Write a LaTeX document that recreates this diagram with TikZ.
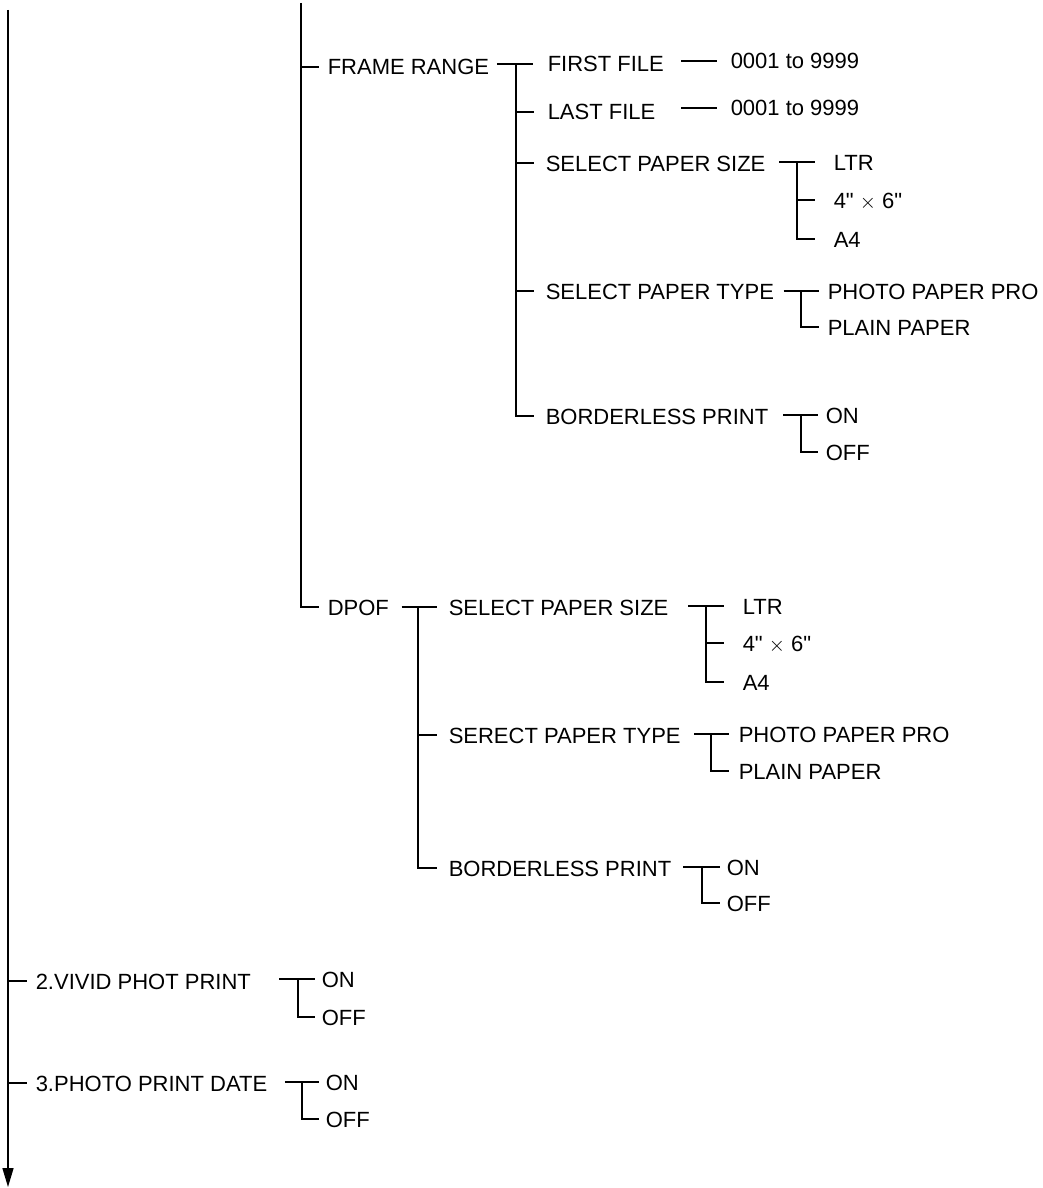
\documentclass[tikz,border=0pt]{standalone}
\usepackage{fontspec}
\setmainfont{Liberation Sans}[Ligatures=TeXOff]
\usetikzlibrary{arrows.meta}
\begin{document}
\begin{tikzpicture}[x=1pt,y=-1pt,line width=1.5pt,
  lbl/.style={anchor=west,inner sep=0pt,text height=16pt,text depth=0pt,font=\fontsize{22}{26}\selectfont}]
\useasboundingbox (0,0) rectangle (1042,1188);
% ---------- labels ----------
\node[lbl] (fr)   at (327,67)  {FRAME RANGE};
\node[lbl] (ff)   at (547,64)  {FIRST FILE};
\node[lbl] (ffv)  at (730,61)  {0001 to 9999};
\node[lbl] (lf)   at (547,112) {LAST FILE};
\node[lbl] (lfv)  at (730,108) {0001 to 9999};
\node[lbl] (ps1)  at (545,163) {SELECT PAPER SIZE};
\node[lbl] (ltr1) at (833,162) {LTR};
\node[lbl] (f61)  at (833,200) {4" $\times$ 6"};
\node[lbl] (a41)  at (833,239) {A4};
\node[lbl] (pt1)  at (545,291) {SELECT PAPER TYPE};
\node[lbl] (ppp1) at (827,291) {PHOTO PAPER PRO};
\node[lbl] (pp1)  at (827,327) {PLAIN PAPER};
\node[lbl] (bp1)  at (545,416) {BORDERLESS PRINT};
\node[lbl] (on1)  at (825,415) {ON};
\node[lbl] (off1) at (825,452) {OFF};
\node[lbl] (dpof) at (327,607) {DPOF};
\node[lbl] (ps2)  at (448,607) {SELECT PAPER SIZE};
\node[lbl] (ltr2) at (742,606) {LTR};
\node[lbl] (f62)  at (742,643) {4" $\times$ 6"};
\node[lbl] (a42)  at (742,682) {A4};
\node[lbl] (pt2)  at (448,735) {SERECT PAPER TYPE};
\node[lbl] (ppp2) at (738,734) {PHOTO PAPER PRO};
\node[lbl] (pp2)  at (738,771) {PLAIN PAPER};
\node[lbl] (bp2)  at (448,868) {BORDERLESS PRINT};
\node[lbl] (on2)  at (726,867) {ON};
\node[lbl] (off2) at (726,903) {OFF};
\node[lbl] (viv)  at (35,981)  {2.VIVID PHOT PRINT};
\node[lbl] (von)  at (321,979) {ON};
\node[lbl] (voff) at (321,1017){OFF};
\node[lbl] (dat)  at (35,1083) {3.PHOTO PRINT DATE};
\node[lbl] (don)  at (325,1082){ON};
\node[lbl] (doff) at (325,1119){OFF};
% ---------- trunks ----------
\coordinate (mtop) at (8,10);
\coordinate (mbot) at (8,1187);
\draw[-{Triangle[length=19pt,width=11pt]}] (mtop) -- (mbot);
\draw (mtop |- viv.west) -- ++(19,0);
\draw (mtop |- dat.west) -- ++(19,0);
\coordinate (t2) at (301,3);
\draw (t2) |- ([xshift=-8pt]dpof.west);
\draw (t2 |- fr.west) -- ([xshift=-8pt]fr.west);
% ---------- FRAME RANGE ----------
\coordinate (bfr) at (516,0);
\draw ([xshift=7pt]fr.east |- ff.west) -- ([xshift=-14pt]ff.west);
\draw (bfr |- ff.west) |- ([xshift=-11pt]bp1.west);
\draw (bfr |- lf.west) -- ([xshift=-13pt]lf.west);
\draw (bfr |- ps1.west) -- ([xshift=-11pt]ps1.west);
\draw (bfr |- pt1.west) -- ([xshift=-11pt]pt1.west);
\draw ([xshift=-49pt]ffv.west) -- ([xshift=-13pt]ffv.west);
\draw ([xshift=-49pt]lfv.west) -- ([xshift=-13pt]lfv.west);
% paper size 1
\coordinate (bps1) at (797,0);
\draw ([xshift=13pt]ps1.east |- ltr1.west) -- ([xshift=-18pt]ltr1.west);
\draw (bps1 |- ltr1.west) |- ([xshift=-18pt]a41.west);
\draw (bps1 |- f61.west) -- ([xshift=-18pt]f61.west);
% paper type 1
\coordinate (bpt1) at (801,0);
\draw ([xshift=9pt]pt1.east |- ppp1.west) -- ([xshift=-8pt]ppp1.west);
\draw (bpt1 |- ppp1.west) |- ([xshift=-8pt]pp1.west);
% borderless 1
\coordinate (bbp1) at (801,0);
\draw ([xshift=14pt]bp1.east |- on1.west) -- ([xshift=-7pt]on1.west);
\draw (bbp1 |- on1.west) |- ([xshift=-7pt]off1.west);
% ---------- DPOF ----------
\coordinate (bdp) at (418,0);
\draw ([xshift=12pt]dpof.east |- ps2.west) -- ([xshift=-11pt]ps2.west);
\draw (bdp |- ps2.west) |- ([xshift=-11pt]bp2.west);
\draw (bdp |- pt2.west) -- ([xshift=-11pt]pt2.west);
% paper size 2
\coordinate (bps2) at (706,0);
\draw ([xshift=19pt]ps2.east |- ltr2.west) -- ([xshift=-18pt]ltr2.west);
\draw (bps2 |- ltr2.west) |- ([xshift=-18pt]a42.west);
\draw (bps2 |- f62.west) -- ([xshift=-18pt]f62.west);
% paper type 2
\coordinate (bpt2) at (711,0);
\draw ([xshift=13pt]pt2.east |- ppp2.west) -- ([xshift=-9pt]ppp2.west);
\draw (bpt2 |- ppp2.west) |- ([xshift=-9pt]pp2.west);
% borderless 2
\coordinate (bbp2) at (702,0);
\draw ([xshift=11pt]bp2.east |- on2.west) -- ([xshift=-6pt]on2.west);
\draw (bbp2 |- on2.west) |- ([xshift=-6pt]off2.west);
% ---------- vivid / date ----------
\coordinate (bviv) at (298,0);
\draw (279,0 |- von.west) -- ([xshift=-6pt]von.west);
\draw (bviv |- von.west) |- ([xshift=-6pt]voff.west);
\coordinate (bdat) at (302,0);
\draw ([xshift=17pt]dat.east |- don.west) -- ([xshift=-6pt]don.west);
\draw (bdat |- don.west) |- ([xshift=-6pt]doff.west);
\end{tikzpicture}
\end{document}
